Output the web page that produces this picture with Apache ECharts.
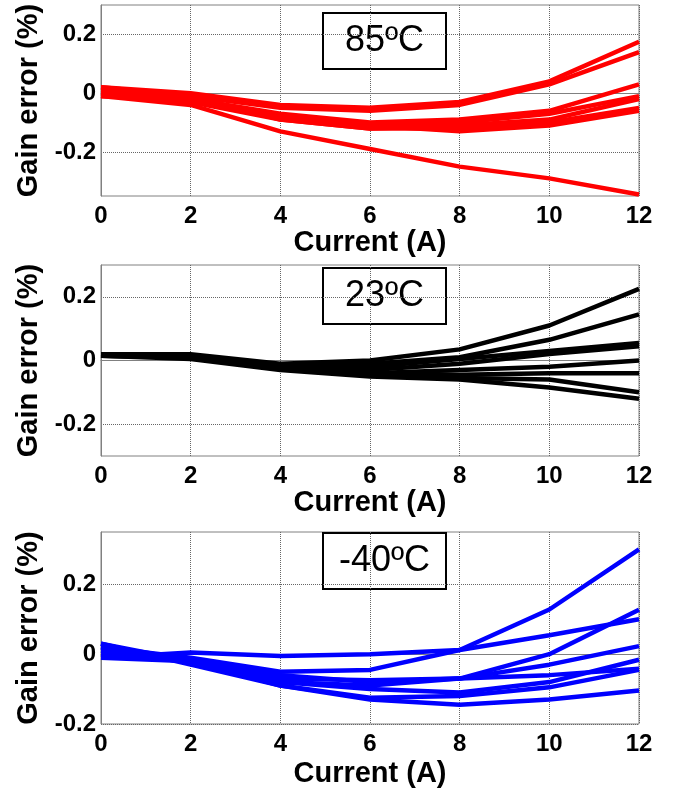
<!DOCTYPE html>
<html>
<head>
<meta charset="utf-8">
<script src="https://cdn.jsdelivr.net/npm/echarts@6/dist/echarts.min.js"></script>
<style>
  html, body { margin: 0; padding: 0; background: #fff; }
  #chart { width: 676px; height: 798px; }
</style>
</head>
<body>
<div id="chart"></div>
<script>
// current steps (A)
var current = [0, 2, 4, 6, 8, 10, 12];
var xTicks = [0, 2, 4, 6, 8, 10, 12];

// gain error (%) at 85ºC
var hot = [
  [0.02, 0.0, -0.04, -0.05, -0.03, 0.04, 0.175],
  [0.01, -0.01, -0.05, -0.06, -0.04, 0.03, 0.14],
  [0.0, -0.02, -0.07, -0.1, -0.09, -0.06, 0.03],
  [-0.01, -0.02, -0.08, -0.11, -0.1, -0.07, -0.01],
  [0.02, -0.01, -0.09, -0.12, -0.11, -0.09, -0.02],
  [0.0, -0.03, -0.09, -0.12, -0.12, -0.1, -0.05],
  [-0.01, -0.02, -0.08, -0.11, -0.13, -0.11, -0.06],
  [-0.01, -0.04, -0.13, -0.19, -0.25, -0.29, -0.345]
];
// gain error (%) at 23ºC
var room = [
  [0.02, 0.02, -0.01, 0.0, 0.035, 0.11, 0.225],
  [0.02, 0.015, -0.015, -0.01, 0.01, 0.065, 0.145],
  [0.02, 0.015, -0.02, -0.02, 0.005, 0.03, 0.055],
  [0.02, 0.01, -0.02, -0.03, -0.01, 0.02, 0.045],
  [0.015, 0.01, -0.02, -0.04, -0.03, -0.02, 0.0],
  [0.02, 0.01, -0.025, -0.04, -0.045, -0.04, -0.04],
  [0.015, 0.01, -0.025, -0.045, -0.055, -0.06, -0.1],
  [0.015, 0.005, -0.03, -0.05, -0.06, -0.085, -0.12]
];
// gain error (%) at -40ºC
var cold = [
  [0.02, -0.01, -0.05, -0.045, 0.012, 0.128, 0.3],
  [-0.01, 0.005, -0.005, 0.0, 0.012, 0.054, 0.1],
  [0.03, -0.02, -0.06, -0.08, -0.07, 0.0, 0.127],
  [0.01, -0.02, -0.07, -0.075, -0.07, -0.03, 0.023],
  [0.0, -0.02, -0.08, -0.1, -0.11, -0.08, -0.016],
  [-0.01, -0.02, -0.08, -0.09, -0.07, -0.06, -0.042],
  [0.02, -0.02, -0.09, -0.125, -0.12, -0.095, -0.045],
  [0.03, -0.03, -0.09, -0.13, -0.145, -0.13, -0.104]
];

var yTicksHot = [-0.2, 0, 0.2];
var yTicksRoom = [-0.2, 0, 0.2];
var yTicksCold = [-0.2, 0, 0.2];

var panels = [
  { label: '85ºC', rows: hot, color: '#ff0000', min: -0.35, max: 0.3, ticks: yTicksHot, top: 5, height: 191, nameGap: 31, boxTop: 12 },
  { label: '23ºC', rows: room, color: '#000000', min: -0.3, max: 0.3, ticks: yTicksRoom, top: 265, height: 191, nameGap: 31, boxTop: 267 },
  { label: '-40ºC', rows: cold, color: '#0000ff', min: -0.2, max: 0.35, ticks: yTicksCold, top: 532, height: 192, nameGap: 35, boxTop: 532 }
];

var font = "'Liberation Sans', Arial, sans-serif";
var gridLine = { show: true, lineStyle: { color: '#666', type: 'dotted', width: 1 } };

var grids = [], xAxes = [], yAxes = [], series = [], graphics = [];

panels.forEach(function (p, i) {
  grids.push({
    left: 101, width: 538, top: p.top, height: p.height,
    show: true, borderColor: '#808080', borderWidth: 1, backgroundColor: '#fff'
  });
  xAxes.push({
    gridIndex: i, type: 'value', min: 0, max: 12, interval: 2,
    name: 'Current (A)', nameLocation: 'middle', nameGap: p.nameGap,
    nameTextStyle: { fontFamily: font, fontWeight: 'bold', fontSize: 29, color: '#000' },
    axisLine: { show: true, lineStyle: { color: '#808080' } },
    axisTick: { show: false },
    axisLabel: { margin: 8, fontFamily: font, fontWeight: 'bold', fontSize: 24, color: '#000',
      customValues: xTicks },
    splitLine: gridLine
  });
  yAxes.push({
    gridIndex: i, type: 'value', min: p.min, max: p.max,
    name: 'Gain error (%)', nameLocation: 'middle', nameGap: 47,
    nameTextStyle: { fontFamily: font, fontWeight: 'bold', fontSize: 29, color: '#000' },
    axisLine: { show: true, lineStyle: { color: '#808080' } },
    axisTick: { show: false, customValues: p.ticks },
    axisLabel: {
      margin: 5, fontFamily: font, fontWeight: 'bold', fontSize: 24, color: '#000',
      customValues: p.ticks,
      formatter: function (v) { return String(Math.round(v * 10) / 10); }
    },
    splitLine: gridLine
  });
  p.rows.forEach(function (row) {
    series.push({
      type: 'line', xAxisIndex: i, yAxisIndex: i,
      data: current.map(function (x, k) { return [x, row[k]]; }),
      showSymbol: false, silent: true,
      lineStyle: { color: p.color, width: 4.5 },
      itemStyle: { color: p.color }
    });
  });
  graphics.push({
    type: 'group', left: 322, top: p.boxTop, z: 100,
    children: [
      { type: 'rect', shape: { x: 0, y: 0, width: 123, height: 56 },
        style: { fill: '#fff', stroke: '#000', lineWidth: 2 } },
      { type: 'text', x: 61.5, y: 28,
        style: { text: p.label, fontFamily: font, fontSize: 36, fill: '#000',
          align: 'center', verticalAlign: 'middle' } }
    ]
  });
});

var chart = echarts.init(document.getElementById('chart'));
chart.setOption({
  animation: false,
  backgroundColor: '#fff',
  grid: grids,
  xAxis: xAxes,
  yAxis: yAxes,
  series: series,
  graphic: graphics
});
</script>
</body>
</html>
